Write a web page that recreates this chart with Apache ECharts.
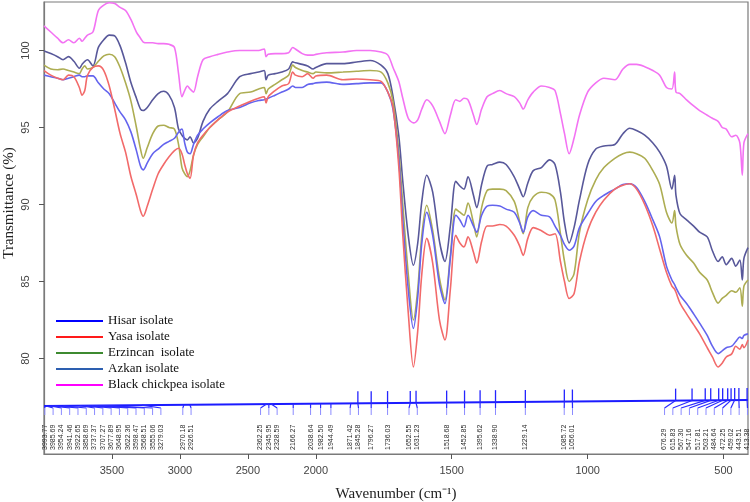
<!DOCTYPE html>
<html>
<head>
<meta charset="utf-8">
<script src="https://cdn.jsdelivr.net/npm/echarts@6/dist/echarts.min.js"></script>
<style>
  html, body { margin: 0; padding: 0; background: #fff; }
  #chart { width: 750px; height: 502px; }
</style>
</head>
<body>
<div id="chart"></div>
<script>
// wavenumbers (cm-1) shared by all five spectra
const wavenumbers = [
  4000, 3950, 3900, 3860, 3820, 3780, 3740, 3720, 3700, 3680,
  3640, 3600, 3560, 3520, 3480, 3440, 3400, 3360, 3320, 3290,
  3270, 3240, 3200, 3160, 3120, 3080, 3040, 3010, 2985, 2965,
  2945, 2925, 2900, 2870, 2830, 2780, 2720, 2650, 2560, 2480,
  2420, 2380, 2366, 2350, 2300, 2250, 2200, 2170, 2150, 2100,
  2060, 2020, 2000, 1960, 1900, 1850, 1800, 1760, 1735, 1716,
  1695, 1680, 1660, 1641, 1625, 1610, 1592, 1570, 1545, 1525,
  1505, 1485, 1470, 1455, 1440, 1420, 1408, 1390, 1370, 1350,
  1323, 1300, 1270, 1250, 1237, 1220, 1200, 1170, 1140, 1120,
  1100, 1085, 1068, 1050, 1030, 1000, 970, 940, 900, 870,
  845, 820, 790, 760, 735, 710, 690, 680, 675, 660,
  636, 610, 588, 560, 541, 520, 505, 490, 470, 455,
  440, 431, 425, 410
];

// transmittance (%)
const chickpea = [
  101.6, 101.2, 100.8, 100.5, 100.7, 100.5, 100.8, 100.6, 100.8, 101.0,
  101.2, 102.6, 102.95, 103.1, 103.05, 102.8, 102.6, 102.0, 101.2, 100.8,
  100.55, 100.5, 100.5, 100.45, 100.45, 100.4, 100.2, 98.5, 97.0, 97.4,
  97.7, 97.5, 97.3, 98.3, 99.4, 99.6, 99.75, 99.9, 100.0, 100.0,
  100.0, 100.1, 99.6, 99.75, 99.8, 99.8, 99.85, 100.2, 100.1, 99.8,
  99.7, 99.7, 99.75, 99.85, 99.9, 100.0, 100.0, 99.9, 99.7, 98.9,
  98.0, 96.9, 95.6, 95.3, 95.5, 96.2, 96.8, 96.4, 95.4, 94.6,
  95.8, 96.8, 96.7, 96.9, 96.8, 95.8, 95.2, 96.2, 97.0, 97.2,
  97.4, 97.2, 97.0, 96.6, 96.2, 96.8, 97.3, 97.7, 97.6, 97.4,
  95.9, 94.6, 93.3, 94.3, 95.8, 97.3, 97.9, 98.2, 98.1, 98.8,
  99.1, 99.1, 98.95, 98.7, 98.4, 97.6, 97.5, 98.6, 97.3, 97.2,
  96.8, 96.4, 96.1, 95.8, 95.6, 95.4, 95.0, 94.9, 94.4, 94.5,
  94.0, 91.9, 94.0, 94.6
];
const azkan = [
  99.97, 99.8, 99.6, 99.4, 99.6, 99.3, 98.85, 99.1, 99.3, 99.4,
  99.0, 100.2, 100.7, 101.0, 100.95, 100.3, 99.2, 97.9, 96.9, 96.2,
  96.1, 96.3, 96.8, 97.2, 97.35, 97.1, 96.3, 94.9, 94.5, 94.3,
  94.2, 94.4, 94.0, 94.3, 95.4, 96.2, 96.7, 97.2, 98.3, 98.5,
  98.6, 98.7, 98.1, 98.4, 98.5, 98.6, 98.8, 99.26, 99.2, 99.1,
  99.0, 98.8, 98.9, 99.15, 99.15, 99.25, 99.35, 99.05, 98.5, 97.0,
  94.5, 91.5, 88.0, 86.06, 87.5, 90.2, 91.9, 90.8, 87.6, 86.3,
  88.6, 91.5, 91.2, 91.0, 91.8, 90.6, 89.8, 91.3, 92.5, 92.6,
  92.75, 92.6, 91.8, 91.0, 90.5, 91.4, 92.2, 92.4, 92.9, 92.6,
  90.8, 88.8, 87.5, 88.5, 90.3, 92.6, 93.6, 93.8, 93.9, 94.6,
  94.95, 94.8, 94.5, 94.0, 93.4, 92.5, 91.0, 91.9, 90.6, 89.4,
  89.0, 88.6, 88.2, 87.9, 87.0, 86.3, 86.6, 86.1, 86.5, 86.0,
  86.4, 85.1, 86.5, 87.2
];
const erzincan = [
  99.05, 98.8, 98.75, 98.8, 98.7, 98.6, 98.5, 98.8, 99.0, 98.8,
  98.9, 99.3, 99.65, 99.76, 99.6, 98.9, 97.9, 96.7, 95.0, 93.6,
  93.0, 93.7, 94.6, 95.1, 95.15, 95.0, 94.9, 93.9, 92.4, 92.0,
  91.8, 92.2, 93.2, 93.9, 94.4, 95.0, 95.5, 96.0, 97.2, 97.3,
  97.5, 97.6, 97.2, 97.5, 97.8, 98.1, 98.4, 99.05, 98.9, 98.7,
  98.6, 98.5, 98.6, 98.55, 98.6, 98.65, 98.7, 98.6, 97.9, 96.7,
  93.5, 90.0, 85.5, 82.5, 84.5, 88.0, 89.95, 88.3, 85.2, 83.8,
  86.7, 89.7, 89.5, 89.3, 90.1, 88.8, 87.9, 89.8, 90.9, 91.0,
  91.0, 90.9, 90.2, 88.9, 88.1, 89.8, 90.5, 90.8, 90.7, 90.3,
  88.1, 86.3, 85.0, 85.5, 88.2, 90.3, 91.6, 92.4, 93.0, 93.3,
  93.4, 93.3, 93.0, 92.2, 91.3, 89.5, 88.8, 89.6, 88.6, 87.4,
  86.7, 86.2, 85.6, 85.1, 84.3, 83.6, 83.9, 84.1, 84.4, 84.3,
  84.6, 83.4, 84.7, 85.1
];
const hisar = [
  98.4, 98.3, 98.2, 98.1, 98.2, 98.3, 98.4, 98.3, 98.3, 98.35,
  98.35, 97.9, 97.5, 97.2, 96.6, 96.0, 95.5, 94.7, 93.5, 92.5,
  92.25, 92.7, 93.3, 93.6, 93.9, 94.1, 94.3, 94.7, 94.9, 94.0,
  93.4, 93.3, 93.9, 94.5, 94.9, 95.3, 95.7, 96.1, 96.3, 96.6,
  96.75, 96.8, 96.85, 96.9, 97.1, 97.3, 97.5, 97.7, 97.6, 97.6,
  97.8, 97.85, 97.9, 97.95, 97.8, 97.85, 97.9, 97.9, 97.3, 96.2,
  93.0, 89.0, 84.5, 81.95, 84.0, 87.5, 89.5, 88.0, 84.8, 83.57,
  86.5, 89.3, 89.0, 88.55, 89.3, 88.6, 88.2, 89.3, 89.9, 89.95,
  89.9, 89.7, 89.5, 88.8, 88.2, 89.2, 89.6, 89.3, 89.2, 88.6,
  88.0, 87.4, 87.03, 87.3, 88.5, 89.4, 90.2, 90.6, 91.0, 91.3,
  91.35, 91.1, 90.2, 89.0, 87.9, 86.0, 85.1, 84.8, 84.6, 84.1,
  83.57, 82.9, 82.3, 81.5, 80.8, 80.32, 80.5, 80.7, 80.8, 81.1,
  81.4, 81.3, 81.5, 81.6
];
const yasa = [
  98.7, 98.4, 98.2, 98.1, 98.4, 98.3, 97.6, 97.1, 97.4, 98.4,
  98.9, 99.0, 98.7, 97.7, 96.2, 94.6, 93.4, 91.8, 90.6, 89.6,
  89.24, 89.9, 91.0, 92.0, 92.6, 93.1, 93.5, 93.65, 93.3, 92.6,
  92.0, 91.7, 93.2, 94.0, 94.5, 95.0, 95.5, 96.0, 96.4, 96.7,
  96.9, 97.0, 96.6, 97.0, 97.4, 97.7, 97.85, 98.6, 98.4, 98.3,
  98.5, 98.2, 98.35, 98.4, 98.1, 98.15, 98.1, 98.0, 97.3, 96.3,
  92.5, 88.0, 83.0, 79.45, 81.8, 85.5, 87.8, 86.2, 82.5, 81.2,
  84.5, 88.0, 87.5, 87.25, 87.9, 86.9, 86.2, 87.6, 88.6, 88.6,
  88.7, 88.6, 88.0, 87.3, 86.7, 87.8, 88.5, 88.3, 88.0, 88.1,
  86.3, 85.0, 83.9, 84.2, 86.3, 88.3, 89.5, 90.3, 91.0, 91.25,
  91.35, 91.0, 90.0, 88.6, 87.1, 85.6, 84.7, 84.5, 84.3, 83.6,
  82.9, 82.2, 81.6, 80.7, 80.1, 79.45, 79.7, 80.1, 80.3, 80.8,
  80.6, 80.9, 80.7, 81.2
];

// picked peaks (cm-1), as printed along the bottom of the plot
const peakLabels = [
  3993.77, 3985.69, 3954.24, 3941.46, 3922.65, 3858.69, 3737.37, 3707.27,
  3677.89, 3648.95, 3622.36, 3598.47, 3568.51, 3555.06, 3279.03,
  2970.18, 2926.51,
  2362.25, 2345.95, 2328.59, 2166.27, 2038.64, 1982.50, 1944.49,
  1871.42, 1845.28, 1796.27, 1736.03, 1652.55, 1631.23,
  1518.68, 1452.85, 1395.62, 1338.90, 1229.14, 1085.72, 1056.01,
  676.29, 615.83, 567.30, 547.16, 517.81, 503.21, 484.64, 472.25,
  459.02, 443.51, 413.38
];

const xTicks = [3500, 3000, 2500, 2000, 1500, 1000, 500];
const yTicks = [80, 85, 90, 95, 100];

// axis is compressed by 2 above 2000 cm-1
const T_MIN = 410, T_MAX = 3000;
function toT(w) { return w <= 2000 ? w : 2000 + (w - 2000) / 2; }
function fromT(t) { return t <= 2000 ? t : 2000 + (t - 2000) * 2; }

// spread the peak labels so they don't overlap (in axis units)
const GAP = 30.5;
function spreadLabels(ts) {
  const clusters = [];
  const fix = c => {
    c.start = c.sum / c.n + (c.n - 1) * GAP / 2;
    c.start = Math.min(c.start, T_MAX - 3);
    c.start = Math.max(c.start, T_MIN + 2 + (c.n - 1) * GAP);
  };
  ts.forEach(t => {
    const c = { sum: t, n: 1 };
    fix(c);
    clusters.push(c);
    while (clusters.length > 1) {
      const cur = clusters[clusters.length - 1];
      const prev = clusters[clusters.length - 2];
      const prevEnd = prev.start - (prev.n - 1) * GAP;
      if (prevEnd - GAP < cur.start) {
        prev.sum += cur.sum;
        prev.n += cur.n;
        fix(prev);
        clusters.pop();
      } else break;
    }
  });
  const out = [];
  clusters.forEach(c => {
    for (let k = 0; k < c.n; k++) out.push(c.start - k * GAP);
  });
  return out;
}

const peakT = peakLabels.map(toT);
const labelT = spreadLabels(peakT);
const peakData = peakLabels.map((w, i) => [peakT[i], labelT[i]]);

function renderPeak(params, api) {
  const cs = params.coordSys;
  const bottom = cs.y + cs.height;
  const w = peakLabels[params.dataIndex];
  const x0 = api.coord([api.value(0), 80])[0];
  const xl = api.coord([api.value(1), 80])[0];
  const baseAt = x => bottom - 48 - 6 * (x - cs.x) / cs.width;
  const yb = baseAt(x0);
  const children = [];
  if (params.dataIndex === 0) {
    children.push({
      type: 'line',
      shape: { x1: cs.x, y1: baseAt(cs.x), x2: cs.x + cs.width, y2: baseAt(cs.x + cs.width) },
      style: { stroke: '#1b1bff', lineWidth: 2 }
    });
  }
  if (w <= 1850) {
    children.push({ type: 'line', shape: { x1: x0, y1: yb, x2: x0, y2: yb - 12 },
      style: { stroke: '#2424ff', lineWidth: 1.3 } });
  }
  children.push(
    { type: 'line', shape: { x1: x0, y1: yb, x2: xl, y2: bottom - 46 },
      style: { stroke: '#2a2aff', lineWidth: 1.2 } },
    { type: 'line', shape: { x1: xl, y1: bottom - 46, x2: xl, y2: bottom - 39 },
      style: { stroke: '#8c8cff', lineWidth: 1 } },
    { type: 'text', x: xl, y: bottom - 4, rotation: Math.PI / 2,
      style: { text: w.toFixed(2), fill: '#2a2a2a', font: '7px "Liberation Sans", Arial',
               align: 'left', verticalAlign: 'middle' } }
  );
  return { type: 'group', children };
}

const spectra = [
  { name: 'Azkan isolate', values: azkan, color: '#58589a' },
  { name: 'Erzincan  isolate', values: erzincan, color: '#adad52' },
  { name: 'Hisar isolate', values: hisar, color: '#6464ee' },
  { name: 'Yasa isolate', values: yasa, color: '#f26a6a' },
  { name: 'Black chickpea isolate', values: chickpea, color: '#f373f3' }
];

const legendItems = [
  { name: 'Hisar isolate', color: '#0000ff' },
  { name: 'Yasa isolate', color: '#ff1a1a' },
  { name: 'Erzincan  isolate', color: '#3d8a30' },
  { name: 'Azkan isolate', color: '#2d5fb0' },
  { name: 'Black chickpea isolate', color: '#ff00ff' }
];

const tickFont = '"Liberation Sans Narrow", "Liberation Sans", Arial';
const serif = '"Liberation Serif", "Times New Roman", serif';

const chart = echarts.init(document.getElementById('chart'));
chart.setOption({
  animation: false,
  grid: { left: 44, right: 2, top: 2, bottom: 48, outerBoundsMode: 'none',
          show: true, borderColor: '#7a7a7a', borderWidth: 1.2 },
  legend: {
    orient: 'vertical', left: 51, top: 309, icon: 'rect',
    itemWidth: 47, itemHeight: 2, itemGap: 2,
    textStyle: { fontFamily: serif, fontSize: 13, color: '#111', lineHeight: 14 },
    data: legendItems.map(l => ({ name: l.name, itemStyle: { color: l.color } }))
  },
  xAxis: {
    type: 'value', inverse: true, min: T_MIN, max: T_MAX,
    name: 'Wavenumber (cm⁻¹)', nameLocation: 'middle', nameGap: 33,
    nameTextStyle: { fontFamily: serif, fontSize: 15, color: '#222' },
    axisLine: { lineStyle: { color: '#7a7a7a', width: 1.2 } },
    axisTick: { customValues: xTicks.map(toT), length: 5, lineStyle: { color: '#555' } },
    axisLabel: { customValues: xTicks.map(toT), margin: 11, fontFamily: tickFont, fontSize: 11,
                 color: '#444', formatter: v => String(Math.round(fromT(v))) },
    splitLine: { show: false }
  },
  yAxis: {
    type: 'value', min: 73.8, max: 103.15,
    axisLine: { show: true, lineStyle: { color: '#7a7a7a', width: 1.2 } },
    axisTick: { show: true, customValues: yTicks, length: 5, lineStyle: { color: '#555' } },
    axisLabel: { customValues: yTicks, rotate: 90, margin: 13, fontFamily: tickFont, fontSize: 11, color: '#444' },
    splitLine: { show: false }
  },
  graphic: [{
    type: 'text', x: 9, y: 203, rotation: Math.PI / 2,
    style: { text: 'Transmittance (%)', font: '15px ' + serif, fill: '#222',
             align: 'center', verticalAlign: 'middle' }
  }],
  series: spectra.map(s => ({
    name: s.name, type: 'line', showSymbol: false, smooth: 0.3,
    lineStyle: { color: s.color, width: 1.6 }, itemStyle: { color: s.color },
    data: wavenumbers.map((w, i) => [toT(w), s.values[i]])
  })).concat([{
    type: 'custom', name: 'peaks', renderItem: renderPeak, clip: false,
    encode: { x: [0, 1] }, data: peakData, silent: true
  }])
});
</script>
</body>
</html>
